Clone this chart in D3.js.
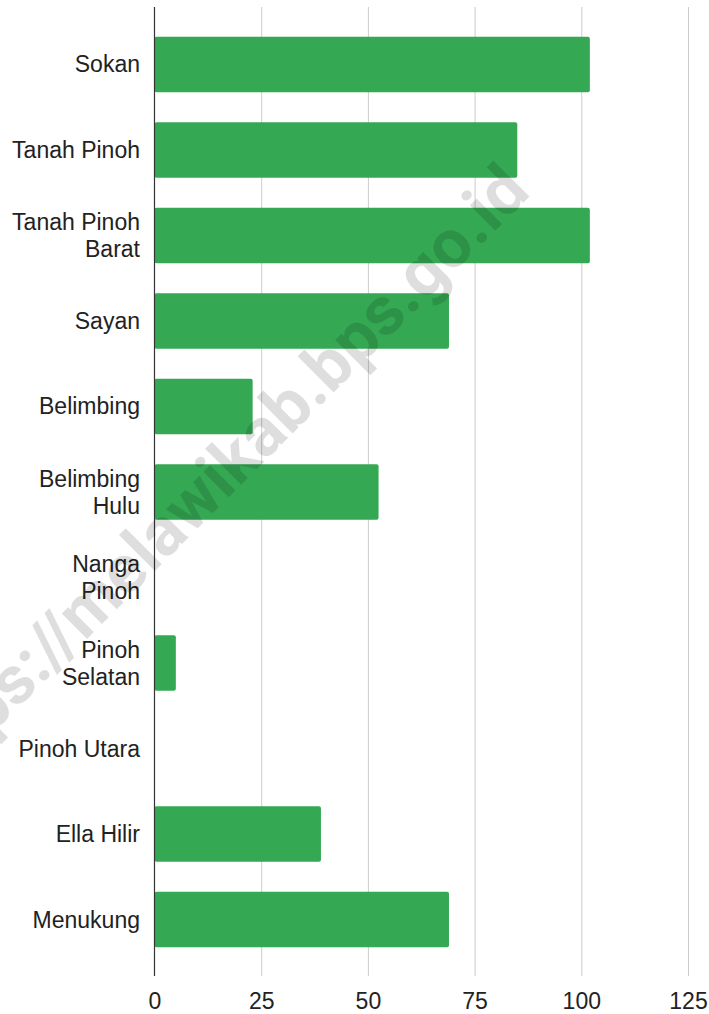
<!DOCTYPE html>
<html>
<head>
<meta charset="utf-8">
<script src="https://cdn.jsdelivr.net/npm/d3@7"></script>
<style>
  body { margin: 0; background: #fff; }
  text { font-family: 'Liberation Sans', Arial, sans-serif; }
</style>
</head>
<body>
<div class="chart"></div>
<script>
const svgWidth = 709;
const svgHeight = 1014;

// category labels (line breaks as in the picture)
const categories = [
  'Sokan', 'Tanah Pinoh', 'Tanah Pinoh Barat', 'Sayan', 'Belimbing',
  'Belimbing Hulu', 'Nanga Pinoh', 'Pinoh Selatan', 'Pinoh Utara',
  'Ella Hilir', 'Menukung'
];
const labelLines = [
  ['Sokan'], ['Tanah Pinoh'], ['Tanah Pinoh', 'Barat'], ['Sayan'], ['Belimbing'],
  ['Belimbing', 'Hulu'], ['Nanga', 'Pinoh'], ['Pinoh', 'Selatan'], ['Pinoh Utara'],
  ['Ella Hilir'], ['Menukung']
];
const values = [102, 85, 102, 69, 23, 52.5, 0, 5, 0, 39, 69];
const xTicks = [0, 25, 50, 75, 100, 125];

const plot = { left: 154.5, right: 688, top: 7, bottom: 976 };

const svg = d3.select('.chart')
  .append('svg')
  .attr('width', svgWidth)
  .attr('height', svgHeight);

const x = d3.scaleLinear()
  .domain([0, 125])
  .range([plot.left, plot.right]);

const y = d3.scaleBand()
  .domain(categories)
  .range([plot.top + 1, plot.bottom])
  .paddingInner(0.35)
  .paddingOuter(0.335);

// gridlines + tick labels
const xAxis = svg.append('g')
  .attr('transform', `translate(0, ${plot.bottom})`)
  .call(d3.axisBottom(x)
    .tickValues(xTicks)
    .tickSize(-(plot.bottom - plot.top))
    .tickPadding(16.5));

xAxis.select('.domain').remove();
xAxis.selectAll('.tick line')
  .attr('stroke', '#cccccc')
  .attr('stroke-width', 1)
  .attr('opacity', d => d === 0 ? 0 : 1);
xAxis.selectAll('.tick text')
  .attr('fill', '#222')
  .style('font-size', '23px')
  .style('font-family', "'Liberation Sans', Arial, sans-serif");

// bars
svg.append('g')
  .selectAll('rect')
  .data(categories.filter((c, i) => values[i] > 0))
  .enter()
  .append('rect')
  .attr('x', x(0))
  .attr('y', d => y(d))
  .attr('width', d => x(values[categories.indexOf(d)]) - x(0))
  .attr('height', y.bandwidth())
  .attr('rx', 2)
  .attr('fill', '#34a853');

// vertical axis line
svg.append('line')
  .attr('x1', x(0)).attr('x2', x(0))
  .attr('y1', plot.top).attr('y2', plot.bottom)
  .attr('stroke', '#333')
  .attr('stroke-width', 1.2);

// category labels
const labels = svg.append('g')
  .selectAll('text')
  .data(categories)
  .enter()
  .append('text')
  .attr('text-anchor', 'end')
  .attr('fill', '#222')
  .style('font-size', '23px');

labels.each(function(d, i) {
  const lines = labelLines[i];
  const cy = y(d) + y.bandwidth() / 2;
  const lineH = 27;
  const first = cy + 8 - (lines.length - 1) * lineH / 2;
  lines.forEach((t, j) => {
    d3.select(this).append('tspan')
      .attr('x', 140)
      .attr('y', first + j * lineH)
      .text(t);
  });
});

// watermark
svg.append('text')
  .attr('transform', 'translate(532, 194) rotate(-45)')
  .attr('text-anchor', 'end')
  .style('font-family', 'Roboto, sans-serif')
  .style('font-weight', 700)
  .style('font-size', '68px')
  .attr('fill', '#000')
  .attr('fill-opacity', 0.13)
  .text('https://melawikab.bps.go.id');
</script>
</body>
</html>
